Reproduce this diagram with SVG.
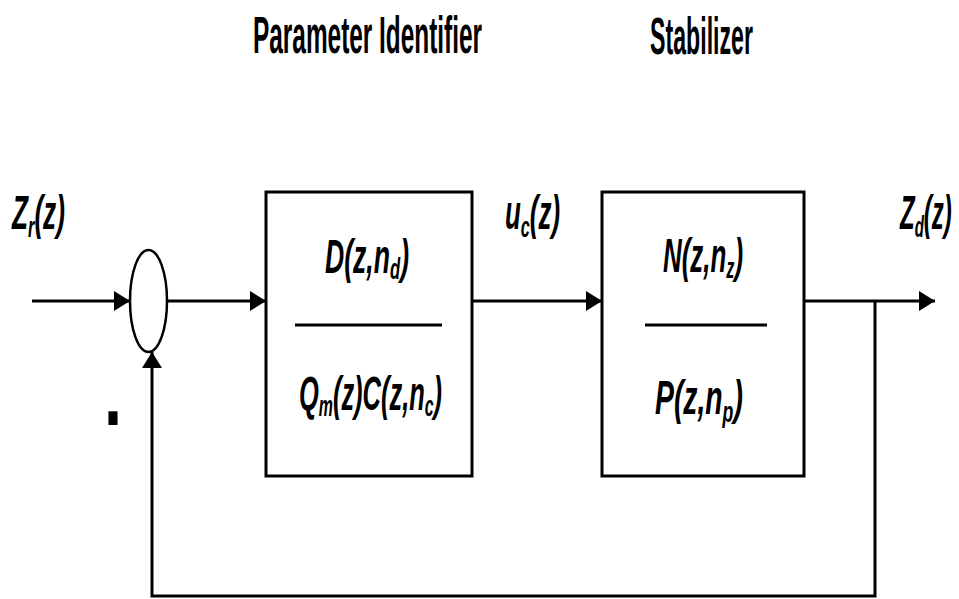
<svg xmlns="http://www.w3.org/2000/svg" width="959" height="599" viewBox="0 0 959 599">
<style>
.t{font-family:"Liberation Sans",Arial,sans-serif;font-weight:bold;fill:#000}
.m{font-style:italic;font-size:48px}
.s{font-size:30px}
.h{font-size:52px}
.ln{stroke:#000;stroke-width:3;fill:none}
.box{stroke:#000;stroke-width:3;fill:#fff}
</style>
<defs>
<marker id="ah" markerUnits="userSpaceOnUse" markerWidth="18" markerHeight="22" refX="16" refY="11" orient="auto">
<path d="M0,1 L16,11 L0,21 Z" fill="#000"/>
</marker>
</defs>
<rect width="959" height="599" fill="#fff"/>
<g id="titles">
<text class="t h" transform="translate(253,53) scale(0.469,1)">Parameter Identifier</text>
<text class="t h" transform="translate(650,54) scale(0.4455,1)">Stabilizer</text>
</g>
<g id="connectors">
<line class="ln" x1="32" y1="301" x2="130" y2="301" marker-end="url(#ah)"/>
<line class="ln" x1="167" y1="301" x2="266" y2="301" marker-end="url(#ah)"/>
<line class="ln" x1="472" y1="301" x2="602" y2="301" marker-end="url(#ah)"/>
<line class="ln" x1="804" y1="301" x2="935" y2="301" marker-end="url(#ah)"/>
<polyline class="ln" points="875,301 875,596 152,596 152,352" marker-end="url(#ah)"/>
</g>
<g id="sum">
<ellipse cx="148.5" cy="301" rx="18.5" ry="51" fill="#fff" stroke="#000" stroke-width="2.5"/>
<text class="t" font-size="36" text-anchor="middle" transform="translate(113,448) scale(1,3.2)">-</text>
</g>
<g id="identifier">
<rect class="box" x="266" y="192" width="206" height="284"/>
<text class="t m" transform="translate(325,273) scale(0.554,1)">D(z,n<tspan class="s" dy="6">d</tspan><tspan dy="-6">)</tspan></text>
<line x1="295" y1="325" x2="442" y2="325" stroke="#000" stroke-width="3"/>
<text class="t m" transform="translate(299,410) scale(0.53,1)">Q<tspan class="s" dy="6">m</tspan><tspan dy="-6">(z)C(z,n</tspan><tspan class="s" dy="6">c</tspan><tspan dy="-6">)</tspan></text>
</g>
<g id="stabilizer">
<rect class="box" x="602" y="192" width="202" height="284"/>
<text class="t m" transform="translate(663,272) scale(0.54,1)">N(z,n<tspan class="s" dy="6">z</tspan><tspan dy="-6">)</tspan></text>
<line x1="645" y1="325" x2="767" y2="325" stroke="#000" stroke-width="3"/>
<text class="t m" transform="translate(655,414) scale(0.59,1)">P(z,n<tspan class="s" dy="8">p</tspan><tspan dy="-8">)</tspan></text>
</g>
<g id="labels">
<text class="t m" transform="translate(12,229) scale(0.546,1)">Z<tspan class="s" dy="8">r</tspan><tspan dy="-8">(z)</tspan></text>
<text class="t m" transform="translate(505,229) scale(0.54,1)">u<tspan class="s" dy="8">c</tspan><tspan dy="-8">(z)</tspan></text>
<text class="t m" transform="translate(900,229) scale(0.5,1)">Z<tspan class="s" dy="8">d</tspan><tspan dy="-8">(z)</tspan></text>
</g>
</svg>
